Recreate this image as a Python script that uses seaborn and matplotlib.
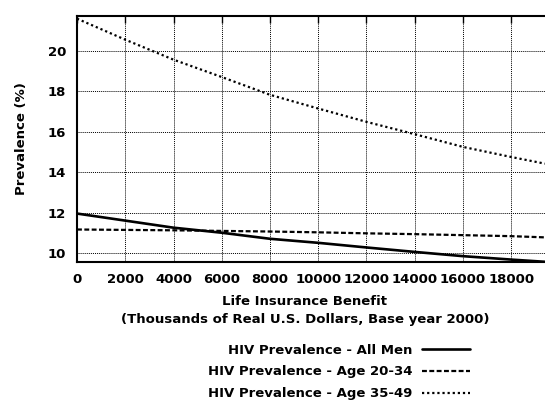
import numpy as np
import pandas as pd
import seaborn as sns
import matplotlib.pyplot as plt

# benefit levels (thousands of dollars)
benefit = [0, 2000, 4000, 6000, 8000, 10000, 12000, 14000, 16000, 18000, 19400]

# prevalence
all_men = [11.95, 11.6, 11.25, 11.0, 10.7, 10.5, 10.27, 10.05, 9.84, 9.67, 9.56]
age_20_34 = [11.16, 11.14, 11.12, 11.09, 11.06, 11.02, 10.97, 10.93, 10.88, 10.83, 10.77]
age_35_49 = [21.6, 20.56, 19.57, 18.71, 17.83, 17.15, 16.49, 15.88, 15.25, 14.75, 14.42]

x_ticks = [0, 2000, 4000, 6000, 8000, 10000, 12000, 14000, 16000, 18000]
y_ticks = [10, 12, 14, 16, 18, 20]

sns.set_style("white")
plt.rcParams["font.family"] = ["DejaVu Sans"]
plt.rcParams["font.weight"] = "bold"
# gnuplot look: everything in plain black
for key in ["text.color", "axes.labelcolor", "xtick.color", "ytick.color"]:
    plt.rcParams[key] = "black"
fs = 9.5

fig = plt.figure(figsize=(5.45, 4.01), dpi=100)
ax = fig.add_axes([0.1413, 0.3466, 0.8587, 0.6144])

df = pd.DataFrame({"benefit": benefit, "all": all_men, "young": age_20_34, "old": age_35_49})

sns.lineplot(data=df, x="benefit", y="all", ax=ax, color="black", lw=1.9,
             label="HIV Prevalence - All Men")
sns.lineplot(data=df, x="benefit", y="young", ax=ax, color="black", lw=1.6,
             linestyle=(0, (2.2, 1.1)), label="HIV Prevalence - Age 20-34")
sns.lineplot(data=df, x="benefit", y="old", ax=ax, color="black", lw=1.6,
             linestyle=(0, (1, 1.3)), label="HIV Prevalence - Age 35-49")

ax.set_xlim(0, 19400)
ax.set_ylim(9.55, 21.75)
ax.set_xticks(x_ticks)
ax.set_yticks(y_ticks)
ax.tick_params(direction="in", length=5, width=1, top=True, right=False,
               labelsize=fs, pad=8, color="black", labelcolor="black")
for lab in ax.get_xticklabels() + ax.get_yticklabels():
    lab.set_fontweight("bold")

ax.grid(True, color="black", linestyle=(0, (1, 1)), linewidth=0.7)
for side in ["left", "bottom", "top"]:
    ax.spines[side].set_color("black")
    ax.spines[side].set_linewidth(1.5)
ax.spines["right"].set_visible(False)

ax.set_xlabel("Life Insurance Benefit\n(Thousands of Real U.S. Dollars, Base year 2000)",
              fontsize=fs, fontweight="bold", linespacing=1.45, color="black")
ax.set_ylabel("Prevalence (%)", fontsize=fs, fontweight="bold", color="black")
ax.xaxis.set_label_coords(0.487, -0.197)
ax.xaxis.label.set_va("center")
ax.yaxis.set_label_coords(-0.118, 0.5)
ax.yaxis.label.set_va("center")
ax.yaxis.label.set_ha("center")

handles, labels = ax.get_legend_handles_labels()
ax.get_legend().remove()
fig.legend(handles, labels, loc="upper right", bbox_to_anchor=(0.884, 0.173),
           frameon=False, markerfirst=False, handlelength=3.6,
           handletextpad=0.75, labelspacing=0.68, prop={"weight": "bold", "size": fs},
           labelcolor="black")

fig.savefig("out.png", dpi=100)
